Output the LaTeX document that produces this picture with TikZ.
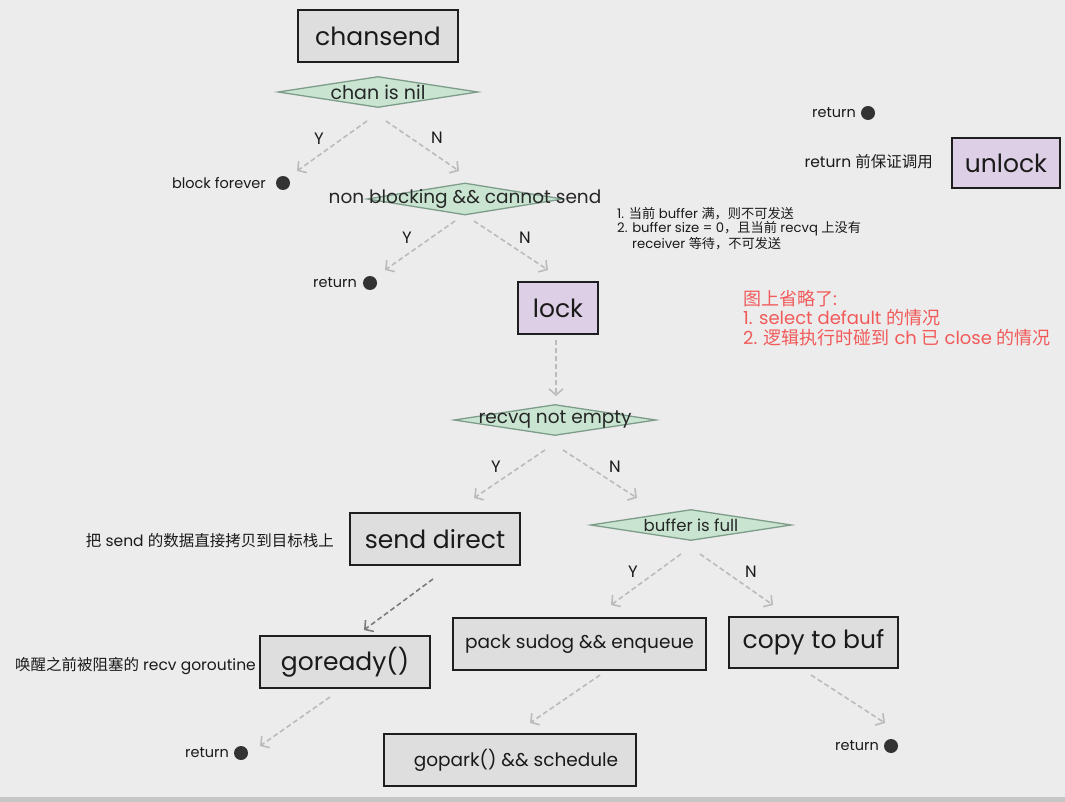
\documentclass[tikz,border=0pt]{standalone}
\usepackage{fontspec}
\setmainfont{Poppins}
\newfontfamily\cjk{Noto Sans CJK SC}
\usetikzlibrary{arrows.meta,shapes.geometric}
\definecolor{bgc}{HTML}{ECECEC}
\definecolor{barc}{HTML}{C6C6C6}
\definecolor{boxgray}{HTML}{DEDEDE}
\definecolor{boxline}{HTML}{1E1E1E}
\definecolor{purp}{HTML}{DDD0E6}
\definecolor{dfill}{HTML}{C9E5D2}
\definecolor{dline}{HTML}{7E9C8A}
\definecolor{arrg}{HTML}{BBBBBB}
\definecolor{arrd}{HTML}{7C7C7C}
\definecolor{dotc}{HTML}{333333}
\definecolor{redc}{HTML}{F25A5A}
\definecolor{txt}{HTML}{1A1A1A}
\newcommand{\fsz}[1]{\fontsize{#1}{#1}\selectfont}
\begin{document}
\begin{tikzpicture}[x=1pt,y=-1pt,
  every node/.style={text=txt},
  box/.style={draw=boxline, line width=1.8pt, fill=boxgray, inner sep=0pt},
  pbox/.style={box, fill=purp},
  dia/.style={diamond, draw=dline, line width=1.3pt, fill=dfill, inner sep=0pt},
  dtext/.style={text=black!85, inner sep=0pt},
  arr/.style={draw=arrg, line width=1.6pt, dash pattern=on 5pt off 3pt, -{Straight Barb[length=6pt,width=14pt]}},
  arrdark/.style={arr, draw=arrd},
  yn/.style={font=\fsz{16.5}, inner sep=0pt},
  lbl/.style={font=\fsz{14.5}, inner sep=0pt},
  cnl/.style={font=\fsz{15.5}, inner sep=0pt},
  dot/.style={circle, fill=dotc, minimum size=14pt, inner sep=0pt}
]
\useasboundingbox (0,0) rectangle (1065,802);
\fill[bgc] (0,0) rectangle (1065,802);
\fill[barc] (0,797) rectangle (1065,802);

% boxes
\node[box, minimum width=160, minimum height=52, font=\fsz{25}] (chansend) at (378,36) {chansend};
\node[pbox, minimum width=108, minimum height=50, font=\fsz{25}] (unlock) at (1006,163) {unlock};
\node[pbox, minimum width=80, minimum height=52, font=\fsz{25}] (lock) at (558,308) {lock};
\node[box, minimum width=170, minimum height=52, font=\fsz{25}] (senddirect) at (435,539) {send direct};
\node[box, minimum width=170, minimum height=52, font=\fsz{25}] (goready) at (345,662) {goready()};
\node[box, minimum width=253, minimum height=52, font=\fsz{18.5}] (pack) at (579.5,644) {pack sudog \&\& enqueue};
\node[box, minimum width=169, minimum height=51, font=\fsz{25}] (copybuf) at (813.5,642.5) {copy to buf};
\node[box, minimum width=252, minimum height=52, font=\fsz{18.5}] (gopark) at (510,760) {\hspace*{12pt}gopark() \&\& schedule};

% diamonds
\node[dia, minimum width=200, minimum height=31] (d1) at (378,92) {};
\node[dtext, font=\fsz{19}] (d1t) at (d1.center) {chan is nil};
\node[dia, minimum width=196, minimum height=32] (d2) at (465,199) {};
\node[dtext, font=\fsz{18.5}] (d2t) at (d2.center) {non blocking \&\& cannot send};
\node[dia, minimum width=202, minimum height=31] (d3) at (555,420) {};
\node[dtext, font=\fsz{18.5}] (d3t) at (d3.center) {recvq not empty};
\node[dia, minimum width=201, minimum height=31] (d4) at (691,525) {};
\node[dtext, font=\fsz{16.5}] (d4t) at (d4.center) {buffer is full};

% terminal dots and labels
\node[dot] (dotblock) at (283,183) {};
\node[lbl, anchor=east] (tblock) at (266,183) {block forever};
\node[dot] (dotret1) at (370,283) {};
\node[lbl, anchor=east] (tret1) at (357,283) {return};
\node[dot] (dotret2) at (241,753) {};
\node[lbl, anchor=east] (tret2) at (229,753) {return};
\node[dot] (dotret3) at (891,746) {};
\node[lbl, anchor=east] (tret3) at (879,746) {return};
\node[dot] (dotret4) at (868,113) {};
\node[lbl, anchor=east] (tret4) at (856,113) {return};
\node[cnl, anchor=east] (tunl) at (933,162) {return {\cjk 前保证调用}};

% annotations
\node[cnl, anchor=east] (tsend) at (334,541) {{\cjk 把} send {\cjk 的数据直接拷贝到目标栈上}};
\node[cnl, anchor=east] (twake) at (256,666) {{\cjk 唤醒之前被阻塞的} recv goroutine};
\node[inner sep=0pt, anchor=north west, align=left, font={\fontsize{13.2}{14.5}\selectfont}, text=txt] (note) at (617,207)
  {1. {\cjk 当前} buffer {\cjk 满，则不可发送}\\
   2. buffer size = 0{\cjk ，且当前} recvq {\cjk 上没有}\\
   \hspace*{15pt}receiver {\cjk 等待，不可发送}};
\node[inner sep=0pt, anchor=north west, align=left, font={\fontsize{18}{19.5}\selectfont}, text=redc] (omit) at (743,290)
  {{\cjk 图上省略了}:\\
   1. select default {\cjk 的情况}\\
   2. {\cjk 逻辑执行时碰到} ch {\cjk 已} close {\cjk 的情况}};

% arrow end points
\coordinate (a1s) at (367,121); \coordinate (a1e) at (297,171);
\coordinate (a2s) at (386,121); \coordinate (a2e) at (459,171);
\coordinate (a3s) at (455,221); \coordinate (a3e) at (385,270);
\coordinate (a4s) at (474,221); \coordinate (a4e) at (548,270);
\coordinate (a5s) at (556,340); \coordinate (a5e) at (556,396);
\coordinate (a6s) at (545,450); \coordinate (a6e) at (474,498);
\coordinate (a7s) at (563,450); \coordinate (a7e) at (637,498);
\coordinate (a8s) at (681,554); \coordinate (a8e) at (611,605);
\coordinate (a9s) at (700,554); \coordinate (a9e) at (773,605);
\coordinate (a10s) at (433,579); \coordinate (a10e) at (364,630);
\coordinate (a11s) at (330,697); \coordinate (a11e) at (260,746);
\coordinate (a12s) at (600,675); \coordinate (a12e) at (530,723);
\coordinate (a13s) at (811,675); \coordinate (a13e) at (885,723);

\draw[arr] (a1s) -- (a1e);
\draw[arr] (a2s) -- (a2e);
\draw[arr] (a3s) -- (a3e);
\draw[arr] (a4s) -- (a4e);
\draw[arr] (a5s) -- (a5e);
\draw[arr] (a6s) -- (a6e);
\draw[arr] (a7s) -- (a7e);
\draw[arr] (a8s) -- (a8e);
\draw[arr] (a9s) -- (a9e);
\draw[arrdark] (a10s) -- (a10e);
\draw[arr] (a11s) -- (a11e);
\draw[arr] (a12s) -- (a12e);
\draw[arr] (a13s) -- (a13e);

% Y/N labels
\node[yn] (y1) at (319,139) {Y};
\node[yn] (n1) at (437,138) {N};
\node[yn] (y2) at (407,238) {Y};
\node[yn] (n2) at (525,238) {N};
\node[yn] (y3) at (496,467) {Y};
\node[yn] (n3) at (615,467) {N};
\node[yn] (y4) at (633,572) {Y};
\node[yn] (n4) at (751,572) {N};
\end{tikzpicture}
\end{document}
